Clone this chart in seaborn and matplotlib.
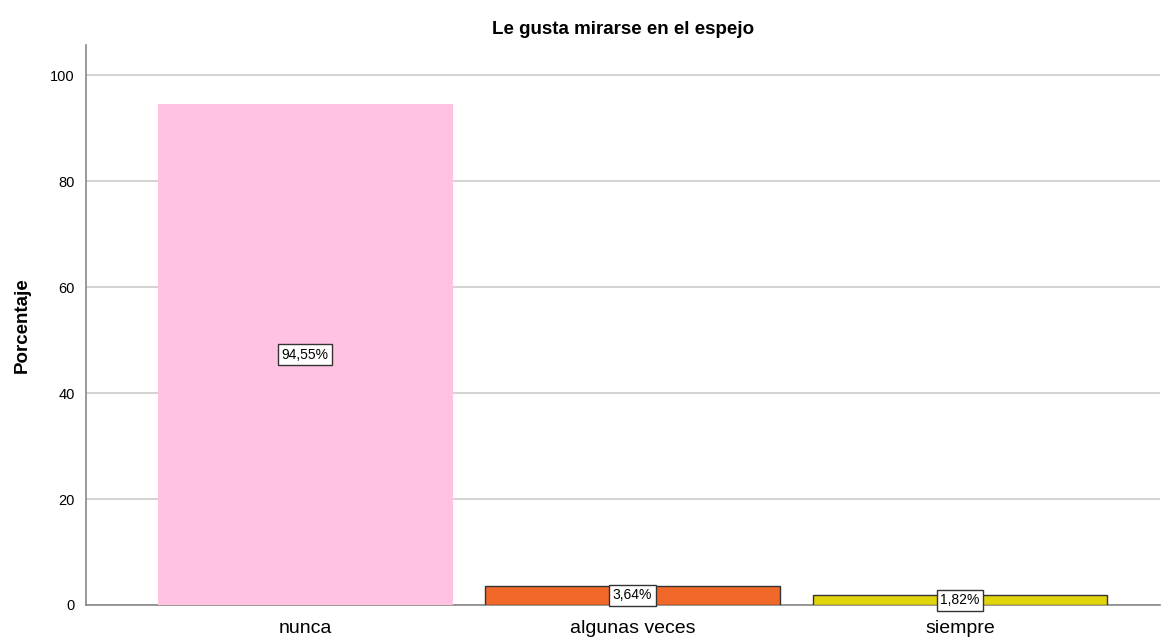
import pandas as pd
import matplotlib
matplotlib.use("Agg")
import matplotlib.pyplot as plt
import seaborn as sns

categories = ["nunca", "algunas veces", "siempre"]
percentages = [94.55, 3.64, 1.82]
bar_colors = ["#FFC2E0", "#F2672A", "#E0D40C"]
label_texts = ["94,55%", "3,64%", "1,82%"]

sns.set_style("white")
plt.rcParams["font.family"] = ["Liberation Sans", "DejaVu Sans"]
plt.rcParams["text.color"] = "black"
plt.rcParams["xtick.color"] = "black"
plt.rcParams["ytick.color"] = "black"
plt.rcParams["axes.labelcolor"] = "black"

df = pd.DataFrame({"categoria": categories, "Porcentaje": percentages})

fig = plt.figure(figsize=(11.65, 6.4), dpi=100)
ax = fig.add_axes([0.0738, 0.0547, 0.9215, 0.875])

sns.barplot(data=df, x="categoria", y="Porcentaje", hue="categoria",
            palette=bar_colors, width=0.9, saturation=1, legend=False,
            ax=ax, zorder=3)

for i, patch in enumerate(ax.patches):
    if i == 0:
        patch.set_edgecolor("none")
    else:
        patch.set_edgecolor("#333333")
        patch.set_linewidth(1.0)

for i, (v, t) in enumerate(zip(percentages, label_texts)):
    ax.text(i, v / 2, t, ha="center", va="center", fontsize=10, zorder=5,
            bbox=dict(boxstyle="square,pad=0.25", facecolor="white",
                      edgecolor="#333333", linewidth=1.0))

ax.set_xlim(-0.67, 2.61)
ax.set_ylim(0, 105.7)
ax.set_yticks([0, 20, 40, 60, 80, 100])
ax.yaxis.grid(True, color="#CCCCCC", linewidth=1.2, zorder=0)
ax.set_axisbelow(True)

for s in ["top", "right"]:
    ax.spines[s].set_visible(False)
for s in ["left", "bottom"]:
    ax.spines[s].set_color("#888888")
    ax.spines[s].set_linewidth(1.2)

ax.tick_params(axis="y", labelsize=10.5, length=0, pad=8)
ax.tick_params(axis="x", labelsize=14, length=0, pad=11)
ax.set_xlabel("")
ax.set_ylabel("Porcentaje", fontsize=13.5, fontweight="bold", labelpad=14)
ax.set_title("Le gusta mirarse en el espejo", fontsize=13.5, fontweight="bold", pad=8)

fig.savefig("out.png", dpi=100)
